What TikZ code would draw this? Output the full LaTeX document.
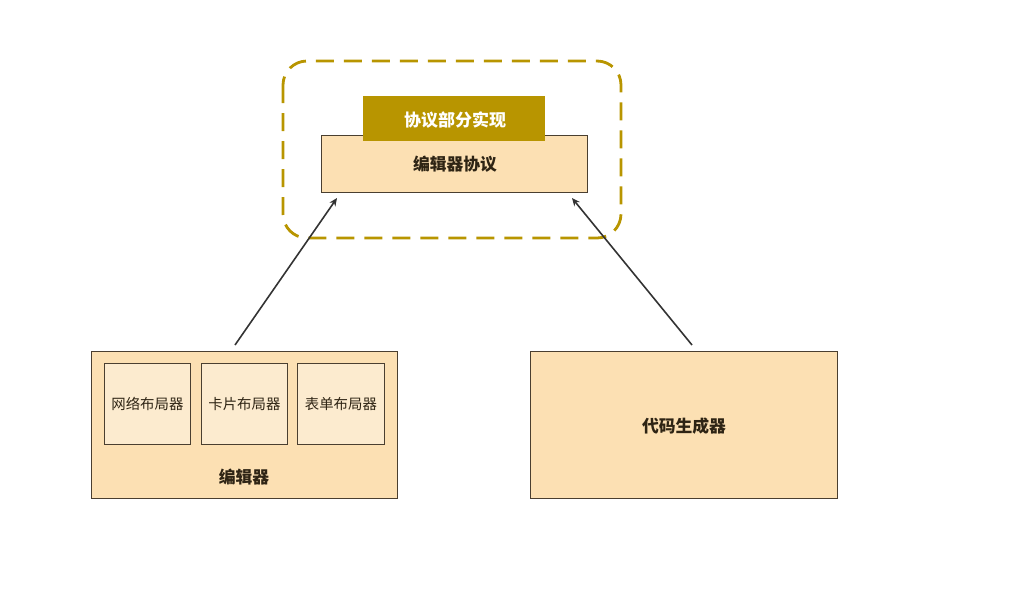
\documentclass[tikz,border=0pt]{standalone}
\usepackage{fontspec}
\setmainfont{Noto Sans CJK SC}
\usetikzlibrary{arrows.meta}
\definecolor{gold}{HTML}{B89500}
\definecolor{peach}{HTML}{FCE0B3}
\definecolor{lightpeach}{HTML}{FCEBCF}
\definecolor{edge}{HTML}{4A3F30}
\definecolor{txt}{HTML}{2E2414}
\definecolor{arrowc}{HTML}{333333}
\tikzset{
  box/.style={draw=edge, line width=0.8pt, fill=peach, inner sep=0pt},
  inner/.style={draw=edge, line width=0.8pt, fill=lightpeach, inner sep=0pt},
  lbl/.style={text=txt, inner sep=0pt},
  conn/.style={draw=arrowc, line width=1.6pt, -{Stealth[length=8pt,width=7pt]}},
}
\begin{document}
\begin{tikzpicture}[x=1pt,y=-1pt]
\useasboundingbox (0,0) rectangle (1022,590);
% dashed group
\draw[gold, line width=2.8pt, dash pattern=on 18pt off 10pt, rounded corners=24pt] (283,61) rectangle (621,238);
% protocol
\node[box, minimum width=266pt, minimum height=57pt, anchor=north west] (proto) at (321,135) {};
\node[lbl] at (455,164) (protot) {\fontsize{16.8}{17}\selectfont\bfseries 编辑器协议};
\node[fill=gold, minimum width=182pt, minimum height=45pt, anchor=north west, inner sep=0pt] (impl) at (363,96) {};
\node[text=white, inner sep=0pt] at (455,120) (implt) {\fontsize{17}{17}\selectfont\bfseries 协议部分实现};
% editor
\node[box, minimum width=306pt, minimum height=147pt, anchor=north west] (editor) at (91,351) {};
\node[inner, minimum width=86pt, minimum height=81pt, anchor=north west] (grid) at (104,363) {};
\node[inner, minimum width=86pt, minimum height=81pt, anchor=north west] (card) at (201,363) {};
\node[inner, minimum width=87pt, minimum height=81pt, anchor=north west] (form) at (297,363) {};
\node[lbl] at (grid.center) {\fontsize{14.4}{14}\selectfont 网络布局器};
\node[lbl] at (card.center) {\fontsize{14.4}{14}\selectfont 卡片布局器};
\node[lbl] at (form.center) {\fontsize{14.4}{14}\selectfont 表单布局器};
\node[lbl] at (244,477) (editort) {\fontsize{16.8}{17}\selectfont\bfseries 编辑器};
% code generator
\node[box, minimum width=307pt, minimum height=147pt, anchor=north west] (gen) at (530,351) {};
\node[lbl] at (684,426) (gent) {\fontsize{16.8}{17}\selectfont\bfseries 代码生成器};
% arrows
\coordinate (a1s) at (235,345);
\coordinate (a1e) at (337,198);
\coordinate (a2s) at (692,345);
\coordinate (a2e) at (572,198);
\draw[conn] (a1s) -- (a1e);
\draw[conn] (a2s) -- (a2e);
\end{tikzpicture}
\end{document}
